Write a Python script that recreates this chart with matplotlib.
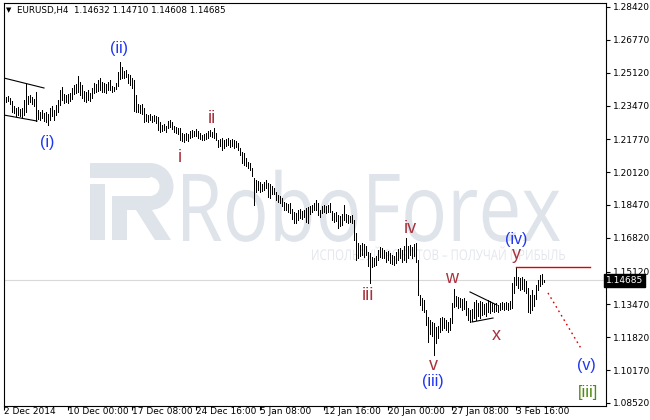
import matplotlib
matplotlib.use('Agg')
import matplotlib.pyplot as plt
from matplotlib.textpath import TextPath
from matplotlib.font_manager import FontProperties
from matplotlib.patches import PathPatch, Rectangle, Polygon, Wedge
import matplotlib.transforms as mtrans
import numpy as np

# ---------------- data (EURUSD H4, prices in pips = price * 1e4) ----------------
high_pips = [
    12425, 12390, 12395, 12385, 12369, 12344, 12334, 12339, 12329, 12334,
    12374, 12455, 12395, 12400, 12390, 12380, 12415, 12324, 12314, 12324,
    12309, 12314, 12304, 12334, 12344, 12324, 12349, 12374, 12425, 12440,
    12405, 12400, 12405, 12410, 12435, 12450, 12455, 12495, 12465, 12450,
    12420, 12415, 12425, 12410, 12435, 12460, 12455, 12475, 12485, 12465,
    12460, 12455, 12465, 12475, 12445, 12440, 12460, 12515, 12565, 12540,
    12520, 12525, 12505, 12500, 12485, 12475, 12400, 12354, 12349, 12354,
    12334, 12304, 12299, 12304, 12294, 12299, 12294, 12289, 12264, 12249,
    12254, 12244, 12269, 12274, 12264, 12244, 12239, 12234, 12234, 12209,
    12204, 12209, 12204, 12219, 12224, 12219, 12229, 12219, 12209, 12199,
    12204, 12209, 12219, 12224, 12214, 12234, 12209, 12173, 12179, 12184,
    12173, 12179, 12184, 12173, 12179, 12173, 12168, 12158, 12133, 12113,
    12108, 12083, 12063, 12058, 12033, 11983, 11972, 11967, 11962, 11952,
    11962, 11972, 11957, 11952, 11942, 11932, 11912, 11897, 11892, 11882,
    11862, 11857, 11852, 11857, 11827, 11812, 11807, 11822, 11827, 11817,
    11822, 11832, 11837, 11842, 11847, 11857, 11872, 11857, 11822, 11842,
    11847, 11842, 11847, 11857, 11817, 11807, 11812, 11797, 11792, 11802,
    11847, 11802, 11797, 11792, 11797, 11771, 11706, 11656, 11646, 11656,
    11651, 11641, 11611, 11606, 11586, 11581, 11591, 11621, 11636, 11631,
    11621, 11611, 11616, 11606, 11596, 11591, 11611, 11626, 11631, 11621,
    11641, 11681, 11641, 11646, 11636, 11651, 11656, 11570, 11395, 11380,
    11369, 11319, 11284, 11269, 11259, 11254, 11234, 11239, 11279, 11284,
    11279, 11269, 11259, 11279, 11354, 11425, 11390, 11385, 11380, 11375,
    11380, 11364, 11329, 11319, 11324, 11359, 11369, 11354, 11364, 11359,
    11349, 11354, 11369, 11364, 11354, 11349, 11354, 11344, 11354, 11359,
    11354, 11359, 11354, 11364, 11455, 11485, 11535, 11485, 11480, 11485,
    11475, 11465, 11430, 11395, 11420, 11395, 11445, 11470, 11495, 11500,
    11471,
]
low_pips = [
    12359, 12364, 12369, 12354, 12314, 12309, 12294, 12299, 12294, 12289,
    12299, 12314, 12354, 12364, 12354, 12344, 12269, 12279, 12274, 12284,
    12269, 12264, 12249, 12274, 12294, 12274, 12299, 12314, 12349, 12374,
    12359, 12364, 12359, 12369, 12380, 12405, 12410, 12415, 12400, 12385,
    12369, 12364, 12374, 12369, 12385, 12410, 12415, 12420, 12425, 12415,
    12415, 12410, 12425, 12425, 12415, 12420, 12430, 12445, 12480, 12485,
    12485, 12490, 12460, 12450, 12435, 12319, 12314, 12314, 12309, 12304,
    12264, 12269, 12264, 12274, 12264, 12269, 12259, 12224, 12214, 12219,
    12224, 12214, 12234, 12239, 12229, 12214, 12209, 12204, 12173, 12168,
    12163, 12173, 12168, 12184, 12189, 12194, 12194, 12184, 12179, 12173,
    12173, 12179, 12184, 12194, 12189, 12184, 12173, 12138, 12143, 12123,
    12133, 12143, 12148, 12138, 12143, 12133, 12138, 12123, 12098, 12058,
    12048, 12043, 12033, 12023, 11993, 11847, 11912, 11922, 11912, 11917,
    11922, 11932, 11887, 11882, 11902, 11902, 11872, 11862, 11857, 11842,
    11822, 11822, 11812, 11807, 11777, 11756, 11756, 11771, 11782, 11777,
    11787, 11761, 11756, 11802, 11812, 11822, 11822, 11797, 11787, 11807,
    11812, 11807, 11812, 11812, 11771, 11761, 11766, 11731, 11741, 11746,
    11771, 11761, 11756, 11761, 11756, 11671, 11570, 11581, 11591, 11596,
    11586, 11596, 11540, 11455, 11535, 11540, 11545, 11570, 11586, 11581,
    11581, 11560, 11570, 11555, 11550, 11545, 11555, 11570, 11581, 11560,
    11570, 11560, 11581, 11596, 11581, 11591, 11560, 11395, 11344, 11319,
    11309, 11244, 11158, 11199, 11189, 11093, 11153, 11179, 11209, 11219,
    11229, 11219, 11209, 11219, 11254, 11334, 11339, 11329, 11334, 11319,
    11324, 11294, 11269, 11259, 11264, 11279, 11269, 11289, 11279, 11294,
    11299, 11289, 11309, 11304, 11314, 11309, 11314, 11309, 11319, 11324,
    11319, 11324, 11319, 11324, 11329, 11405, 11445, 11430, 11420, 11425,
    11415, 11405, 11309, 11304, 11319, 11339, 11375, 11420, 11440, 11450,
    11461,
]
header = "EURUSD,H4  1.14632 1.14710 1.14608 1.14685"
last_price = 1.14685
x_tick_bars = [0, 32, 64, 96, 128, 160, 192, 224, 256]
x_tick_labels = ["2 Dec 2014", "10 Dec 00:00", "17 Dec 08:00", "24 Dec 16:00",
                 "5 Jan 08:00", "12 Jan 16:00", "20 Jan 00:00", "27 Jan 08:00",
                 "3 Feb 16:00"]
y_ticks = [1.28420, 1.26770, 1.25120, 1.23470, 1.21770, 1.20120, 1.18470,
           1.16820, 1.15120, 1.13470, 1.11820, 1.10170, 1.08520]
# wave labels: (text, bar, price, kind)
wave_labels = [
    ("(i)", 21.5, 1.2163, "blue"), ("(ii)", 57.5, 1.2635, "blue"),
    ("i", 88, 1.2088, "red"), ("ii", 104, 1.2284, "red"),
    ("iii", 182, 1.1390, "red"), ("iv", 203, 1.1731, "red"),
    ("v", 214.5, 1.1038, "red"), ("(iii)", 214.5, 1.0958, "blue"),
    ("w", 224, 1.1480, "red"), ("x", 246, 1.1189, "red"),
    ("y", 256, 1.1596, "red"), ("(iv)", 256, 1.1676, "blue"),
    ("(v)", 291, 1.1038, "blue"), ("[iii]", 292, 1.0903, "green"),
]
# drawn objects (bar, price)
wedge_upper = ([0, 20], [1.2485, 1.2435])
wedge_lower = ([0, 16.5], [1.2299, 1.2269])
tri_upper = ([233, 246.5], [1.1410, 1.1344])
tri_lower = ([234, 244.5], [1.1259, 1.1279])
red_level = ([256, 293], [1.1535, 1.1535])
red_target = ([272, 289], [1.1405, 1.1118])

# ---------------- figure ----------------
W, H = 650, 420
fig = plt.figure(figsize=(W / 100, H / 100), dpi=100)
ax = fig.add_axes([4 / W, 14 / H, 602 / W, 403 / H])
px = mtrans.Affine2D().scale(1 / W, -1 / H).translate(0, 1) + fig.transFigure

# watermark
wm = '#dfe4eb'
for p in [Rectangle((90, 163), 60, 15), Rectangle((90, 184), 15, 56),
          Rectangle((112, 196), 38, 14), Rectangle((112, 196), 15, 44),
          Wedge((150, 186.5), 23.5, -90, 90, width=14),
          Polygon([(136, 210), (152, 210), (171, 240), (155, 240)])]:
    p.set_transform(px); p.set_facecolor(wm); p.set_edgecolor('none')
    p.set_clip_on(False); p.set_zorder(0)
    ax.add_patch(p)

def text_patch(s, family, x0, x1, cap_px, base_px, color):
    fp = FontProperties(family=family)
    tp = TextPath((0, 0), s, size=100, prop=fp)
    cap = TextPath((0, 0), 'П' if s[0] in 'ИПР' else 'R', size=100, prop=fp).get_extents().height
    bb = tp.get_extents()
    tr = mtrans.Affine2D().translate(-bb.x0, 0).scale((x1 - x0) / bb.width, -cap_px / cap).translate(x0, base_px) + px
    pp = PathPatch(tp, transform=tr, facecolor=color, edgecolor='none', zorder=0, clip_on=False)
    ax.add_patch(pp)

text_patch("RoboForex", "Open Sans", 183, 560, 67, 241, wm)
text_patch("ИСПОЛЬЗУЙ РОБОТОВ – ПОЛУЧАЙ ПРИБЫЛЬ", "Open Sans", 312, 565, 10.5, 260, '#e3e7ed')

# bars
idx = np.arange(len(high_pips))
hi = np.array(high_pips) / 1e4
lo = np.array(low_pips) / 1e4
ax.axhline(last_price, color='#d9d9d9', lw=0.8, zorder=1)
ax.vlines(idx, lo, hi, color='black', lw=0.55, antialiased=False, zorder=3)

# drawn objects
for xs, ys in [wedge_upper, wedge_lower, tri_upper, tri_lower]:
    ax.plot(xs, ys, color='black', lw=0.8, zorder=4)
ax.plot(*red_level, color='#e00000', lw=1.0, zorder=4)
ax.plot(*red_target, color='#e00000', lw=1.0, ls=(0, (1.2, 2.5)), zorder=4)

colors = {"blue": '#1f35f0', "red": '#a8323c', "green": '#4f8c10'}
sizes = {"blue": 11.5, "red": 13, "green": 12}
for t, b, p, k in wave_labels:
    ax.text(b, p, t, color=colors[k], fontsize=sizes[k], family='Liberation Sans',
            ha='center', va='center', zorder=5)

# axes styling
ax.set_xlim(0, 301)
ax.set_ylim(1.08369, 1.28621)
for s in ax.spines.values():
    s.set_linewidth(0.8); s.set_color('black')
ax.yaxis.tick_right()
ax.set_yticks(y_ticks)
ax.set_yticklabels([f"{v:.5f}" for v in y_ticks])
ax.set_xticks(x_tick_bars)
ax.set_xticklabels(x_tick_labels)
shift = mtrans.ScaledTranslation(2 / 100, 0, fig.dpi_scale_trans)
for lbl in ax.get_xticklabels():
    lbl.set_ha('left')
    lbl.set_transform(lbl.get_transform() + shift)
ax.tick_params(axis='y', direction='out', length=3, width=0.8, labelsize=6.5, pad=2)
ax.tick_params(axis='x', direction='out', length=3, width=0.8, labelsize=6.5, pad=-2)

ax.text(1.0, last_price, f"{last_price:.5f}", transform=ax.get_yaxis_transform(),
        ha='left', va='center', fontsize=6.5, color='white', zorder=6, clip_on=False,
        bbox=dict(boxstyle='square,pad=0.2', fc='black', ec='black'))
fig.text(6 / W, 1 - 10 / H, '▼', fontsize=5, va='center', ha='left')
fig.text(17 / W, 1 - 10 / H, header, fontsize=6.3, va='center', ha='left')

fig.savefig('out.png', dpi=100)
